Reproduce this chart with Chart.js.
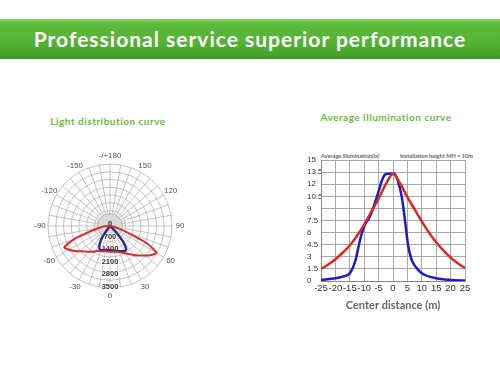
<!DOCTYPE html>
<html><head><meta charset="utf-8">
<script src="https://cdn.jsdelivr.net/npm/chart.js@4.4.0/dist/chart.umd.min.js"></script>
<style>
html,body{margin:0;padding:0;background:#fff;width:500px;height:368px;overflow:hidden;position:relative;font-family:Lato,"Noto Sans",sans-serif}
#banner{position:absolute;left:0;top:19px;width:500px;height:40px;background:linear-gradient(#8ad267 0%,#5cba3c 12%,#53b234 60%,#47a42d 88%,#3b9027 100%);}
#banner div{position:absolute;left:0;right:0;top:0;line-height:40px;text-align:center;color:#fff;font-weight:bold;font-size:21px;letter-spacing:1px}
.t{position:absolute;color:#6bb944;font-weight:bold;font-size:10px;white-space:nowrap;transform:translateX(-50%);letter-spacing:0.5px}
.sub{position:absolute;color:#666;font-weight:bold;font-size:5.6px;white-space:nowrap;top:152px}
#polar{position:absolute;left:20px;top:136px}
#line{position:absolute;left:290px;top:150px}
</style></head>
<body>
<div id="banner"><div>Professional service superior performance</div></div>
<div class="t" style="left:108px;top:115px">Light distribution curve</div>
<div class="t" style="left:386px;top:111px">Average illumination curve</div>
<div class="sub" style="left:321px">Average illumination(lx)</div>
<div class="sub" style="left:400px">Installation height MH = 10m</div>
<canvas id="polar" width="180" height="180"></canvas>
<canvas id="line" width="190" height="170"></canvas>
<script>
// ---------- Polar (light distribution) data ----------
const polarAngles = [180,175,170,165,160,155,150,145,140,135,130,125,120,115,110,105,100,95,
  90,85,80,75,70,65,60,55,50,45,40,35,30,25,20,15,10,5,
  0,-5,-10,-15,-20,-25,-30,-35,-40,-45,-50,-55,-60,-65,-70,-75,-80,-85,
  -90,-95,-100,-105,-110,-115,-120,-125,-130,-135,-140,-145,-150,-155,-160,-165,-170,-175];
const redCd = [0,0,0,0,0,0,0,0,0,0,0,0,0,0,0,0,0,0,
  0,100,220,450,1000,2300,3030,2850,2600,2350,2150,1950,1780,1660,1570,1510,1480,1460,
  1450,1445,1450,1470,1510,1560,1650,1770,1900,2030,2220,2450,2680,2850,2150,1150,650,400,
  200,50,0,0,0,0,0,0,0,0,0,0,0,0,0,0,0,0];
const blueCd = [0,0,0,0,0,0,0,0,0,0,0,0,0,0,0,0,0,0,
  0,0,0,0,0,0,0,0,80,450,1150,1600,1640,1570,1510,1460,1420,1380,
  1360,1360,1370,1400,1450,1420,1150,700,80,0,0,0,0,0,0,0,0,0,
  0,0,0,0,0,0,0,0,0,0,0,0,0,0,0,0,0,0];
const polarAxisValues = [180,150,120,90,60,30,0,-30,-60,-90,-120,-150];
const polarAxisText = ['-/+180','150','120','90','60','30','0','-30','-60','-90','-120','-150'];
const radialTickValues = [0,700,1400,2100,2800,3500];
const radialTickText = ['0','700','1400','2100','2800','3500'];
const discValue = 700;

// ---------- Illumination data ----------
const redX = [-25,-22.5,-20,-17.5,-15,-12.5,-10,-7.5,-5,-2.5,0,2.5,5,7.5,10,12.5,15,17.5,20,22.5,25];
const redLx = [1.5,2.05,2.7,3.5,4.4,5.6,7.0,8.6,10.2,12.0,13.25,12.1,10.4,8.9,7.4,6.0,4.8,3.8,2.9,2.2,1.6];
const blueX = [-25,-20,-17.5,-15,-14,-13,-12,-11,-10,-8,-6,-5,-4,-3,-2,0,0.5,1.8,3,4,4.7,5.3,6.5,8.2,10,15,20,25];
const blueLx = [0.12,0.33,0.54,0.95,1.6,2.6,4.2,5.7,6.8,8.0,10.0,11.1,12.3,13.1,13.3,13.3,13.3,12.3,10.5,8.0,5.9,4.3,2.6,1.6,0.95,0.33,0.12,0.05];
const xTickLabels = ['-25','-20','-15','-10','-5','0','5','10','15','20','25'];
const yTickLabels = ['0','1.5','3','4.5','6','7.5','9','10.5','12','13.5','15'];

const polarDeco = {
  id:'polarDeco',
  beforeDatasetsDraw(chart){
    const s = chart.scales.r, ctx = chart.ctx;
    const cx = s.xCenter, cy = s.yCenter;
    ctx.save();
    ctx.beginPath();
    ctx.arc(cx, cy, s.getDistanceFromCenterForValue(discValue), 0, Math.PI*2);
    ctx.fillStyle = '#d9d9d9'; ctx.fill();
    ctx.strokeStyle = '#a8a8a8'; ctx.lineWidth = 0.8; ctx.stroke();
    ctx.textAlign = 'center'; ctx.textBaseline = 'middle';
    ctx.font = 'bold 7.5px "Liberation Sans"';
    radialTickValues.forEach((v,k)=>{
      const d = s.getDistanceFromCenterForValue(v);
      const y = v === 0 ? cy - 2 : cy + d - 1.5;
      const w = ctx.measureText(radialTickText[k]).width;
      if (v !== 0) { ctx.fillStyle = 'rgba(255,255,255,0.85)'; ctx.fillRect(cx - w/2 - 1, y - 3.5, w + 2, 7); }
      ctx.fillStyle = '#333';
      ctx.fillText(radialTickText[k], cx, y);
    });
    ctx.font = '8px "Liberation Sans"';
    ctx.fillStyle = '#555';
    polarAxisValues.forEach((a,k)=>{
      const idx = polarAngles.indexOf(a);
      const p = s.getPointPosition(idx, s.drawingArea + 8);
      ctx.fillText(polarAxisText[k], p.x, p.y);
    });
    ctx.restore();
  }
};

new Chart(document.getElementById('polar'), {
  type:'radar',
  data:{ labels: polarAngles, datasets:[
    {data: redCd, borderColor:'#d3302b', borderWidth:2, fill:false, pointRadius:0, tension:0.2},
    {data: blueCd, borderColor:'#2b2b8e', borderWidth:2.4, fill:false, pointRadius:0, tension:0.2}
  ]},
  options:{
    responsive:false, animation:false,
    layout:{padding:28},
    plugins:{legend:{display:false}, tooltip:{enabled:false}},
    scales:{ r:{
      min:0, max:3500, startAngle:0,
      ticks:{display:false, stepSize:437.5},
      pointLabels:{display:false},
      grid:{circular:true, color:'#b4b4b4', lineWidth:0.8},
      angleLines:{color: c => (c.index % 2 === 0 ? '#b4b4b4' : 'rgba(0,0,0,0)'), lineWidth:0.8}
    }}
  },
  plugins:[polarDeco]
});

new Chart(document.getElementById('line'), {
  type:'line',
  data:{ datasets:[
    {data: redX.map((x,i)=>({x, y: redLx[i]})), borderColor:'#d8291f', borderWidth:2.5, pointRadius:0, fill:false, cubicInterpolationMode:'monotone'},
    {data: blueX.map((x,i)=>({x, y: blueLx[i]})), borderColor:'#1b1bcc', borderWidth:2.5, pointRadius:0, fill:false, cubicInterpolationMode:'monotone'}
  ]},
  options:{
    responsive:false, animation:false,
    layout:{padding:{left:17,right:15,top:10,bottom:0}},
    plugins:{legend:{display:false}, tooltip:{enabled:false}},
    scales:{
      x:{type:'linear', min:-25, max:25,
        ticks:{stepSize:5, autoSkip:false, maxRotation:0, padding:2, color:'#333',
          font:{family:'"Liberation Sans"', size:9.5},
          callback:(v)=>{ const i = Math.round((v+25)/5); return xTickLabels[i]; }},
        grid:{color:'#a8a8a8', drawTicks:false, lineWidth:1},
        border:{color:'#888'},
        title:{display:true, text:'Center distance (m)', color:'#666', font:{family:'Lato', weight:'bold', size:11}, padding:{top:4,bottom:8}},
        afterFit:(s)=>{ s.height = 39; }
      },
      y:{min:0, max:15,
        ticks:{stepSize:1.5, autoSkip:false, crossAlign:'far', color:'#333', padding:2,
          font:{family:'"Liberation Sans"', size:8},
          callback:(v)=>{ const i = Math.round(v/1.5); return yTickLabels[i]; }},
        grid:{color:'#a8a8a8', drawTicks:false, lineWidth:1},
        border:{color:'#888'},
        afterFit:(s)=>{ s.width = 14; }
      }
    }
  }
});
</script>
</body></html>
